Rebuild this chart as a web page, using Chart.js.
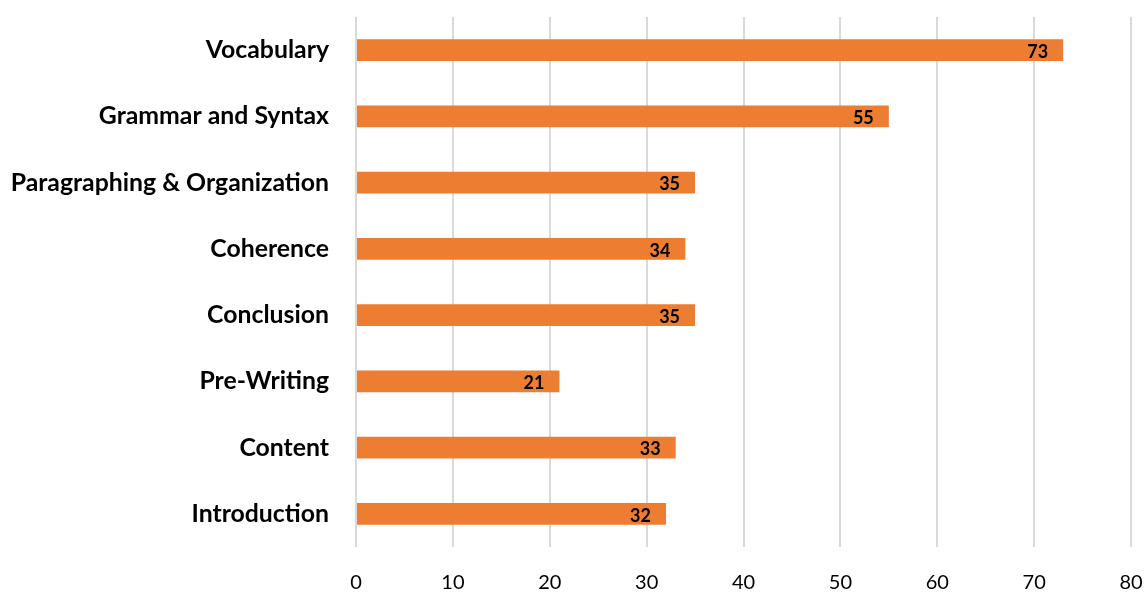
<html><head><title>Writing Skills</title>
<style>
    body { margin: 0; background: #fff; }
    #wrap { width: 1145px; height: 594px; position: relative; }
</style>
<script src="https://cdn.jsdelivr.net/npm/chart.js"></script>
</head>
<body>
<div id="wrap"><canvas id="skillsChart"></canvas></div>
<script>
const categories = ['Vocabulary', 'Grammar and Syntax', 'Paragraphing & Organization', 'Coherence',
    'Conclusion', 'Pre-Writing', 'Content', 'Introduction'];
const scores = [73, 55, 35, 34, 35, 21, 33, 32];
const xTicks = [0, 10, 20, 30, 40, 50, 60, 70, 80];

const FONT = "Lato, 'Open Sans', sans-serif";

// value labels drawn just inside the end of each bar
const barLabels = {
    id: 'barLabels',
    afterDatasetsDraw(chart) {
        const ctx = chart.ctx;
        const meta = chart.getDatasetMeta(0);
        ctx.save();
        ctx.font = "bold 18px " + FONT;
        ctx.fillStyle = '#000';
        ctx.textAlign = 'right';
        ctx.textBaseline = 'middle';
        meta.data.forEach((bar, i) => {
            ctx.fillText(String(scores[i]), bar.x - 15, bar.y + 2);
        });
        ctx.restore();
    }
};

new Chart(document.getElementById('skillsChart'), {
    type: 'bar',
    data: {
        labels: categories,
        datasets: [{
            data: scores,
            backgroundColor: '#ED7D31',
            barPercentage: 0.33,
            categoryPercentage: 1.0
        }]
    },
    options: {
        indexAxis: 'y',
        responsive: true,
        maintainAspectRatio: false,
        animation: false,
        layout: { padding: { top: 17, right: 14, left: 0, bottom: 0 } },
        plugins: { legend: { display: false }, tooltip: { enabled: false } },
        scales: {
            x: {
                min: 0,
                max: 80,
                afterBuildTicks(scale) { scale.ticks = xTicks.map(v => ({ value: v })); },
                afterFit(scale) {
                    scale.height = 47;
                    scale.paddingLeft = 0;
                    scale.paddingRight = 0;
                },
                grid: { color: '#d9d9d9', lineWidth: 2, drawTicks: false },
                border: { display: false },
                ticks: { color: '#000', font: { family: FONT, size: 20 }, padding: 24 }
            },
            y: {
                afterFit(scale) {
                    scale.width = 356;
                    scale.paddingTop = 0;
                    scale.paddingBottom = 0;
                },
                grid: { display: false },
                border: { display: false },
                ticks: { color: '#000', font: { family: FONT, size: 24.8, weight: 'bold' }, padding: 19 }
            }
        }
    },
    plugins: [barLabels]
});
</script>
</body></html>
